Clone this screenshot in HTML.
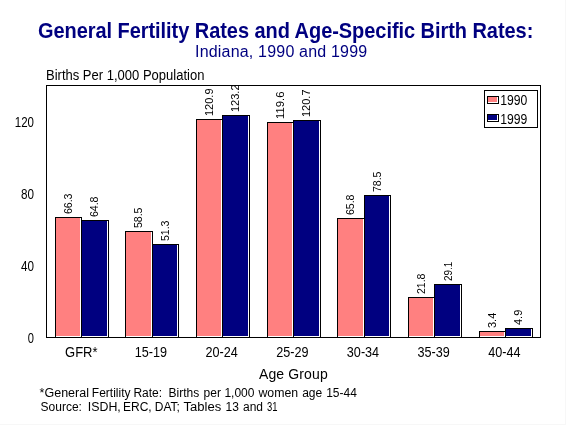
<!DOCTYPE html>
<html><head><meta charset="utf-8"><style>
html,body{margin:0;padding:0;background:#fff;width:566px;height:425px;overflow:hidden}
svg{display:block;will-change:transform}
text{white-space:pre}
</style></head><body>
<svg width="566" height="425" viewBox="0 0 566 425">
<g shape-rendering="crispEdges"><rect x="565" y="0" width="1" height="425" fill="#F7F7F7"/><rect x="0" y="424" width="566" height="1" fill="#F7F7F7"/><rect x="46.5" y="85.5" width="494" height="252" fill="none" stroke="#000" stroke-width="1"/><rect x="55" y="217" width="27" height="121" fill="#000"/><rect x="56" y="218" width="25" height="119" fill="#fff"/><rect x="56" y="218" width="24" height="118" fill="#FF8080"/><rect x="81" y="220" width="28" height="118" fill="#000"/><rect x="82" y="221" width="26" height="116" fill="#fff"/><rect x="82" y="221" width="25" height="115" fill="#000080"/><rect x="125" y="231" width="28" height="107" fill="#000"/><rect x="126" y="232" width="26" height="105" fill="#fff"/><rect x="126" y="232" width="25" height="104" fill="#FF8080"/><rect x="152" y="244" width="27" height="94" fill="#000"/><rect x="153" y="245" width="25" height="92" fill="#fff"/><rect x="153" y="245" width="24" height="91" fill="#000080"/><rect x="196" y="119" width="27" height="219" fill="#000"/><rect x="197" y="120" width="25" height="217" fill="#fff"/><rect x="197" y="120" width="24" height="216" fill="#FF8080"/><rect x="222" y="115" width="28" height="223" fill="#000"/><rect x="223" y="116" width="26" height="221" fill="#fff"/><rect x="223" y="116" width="25" height="220" fill="#000080"/><rect x="267" y="122" width="27" height="216" fill="#000"/><rect x="268" y="123" width="25" height="214" fill="#fff"/><rect x="268" y="123" width="24" height="213" fill="#FF8080"/><rect x="293" y="120" width="28" height="218" fill="#000"/><rect x="294" y="121" width="26" height="216" fill="#fff"/><rect x="294" y="121" width="25" height="215" fill="#000080"/><rect x="337" y="218" width="28" height="120" fill="#000"/><rect x="338" y="219" width="26" height="118" fill="#fff"/><rect x="338" y="219" width="25" height="117" fill="#FF8080"/><rect x="364" y="195" width="27" height="143" fill="#000"/><rect x="365" y="196" width="25" height="141" fill="#fff"/><rect x="365" y="196" width="24" height="140" fill="#000080"/><rect x="408" y="297" width="27" height="41" fill="#000"/><rect x="409" y="298" width="25" height="39" fill="#fff"/><rect x="409" y="298" width="24" height="38" fill="#FF8080"/><rect x="434" y="284" width="28" height="54" fill="#000"/><rect x="435" y="285" width="26" height="52" fill="#fff"/><rect x="435" y="285" width="25" height="51" fill="#000080"/><rect x="479" y="331" width="27" height="7" fill="#000"/><rect x="480" y="332" width="25" height="5" fill="#fff"/><rect x="480" y="332" width="24" height="4" fill="#FF8080"/><rect x="505" y="328" width="28" height="10" fill="#000"/><rect x="506" y="329" width="26" height="8" fill="#fff"/><rect x="506" y="329" width="25" height="7" fill="#000080"/><rect x="484.5" y="90.5" width="53" height="37" fill="none" stroke="#000"/><rect x="487" y="96" width="12" height="8" fill="#000"/><rect x="488" y="97" width="10" height="6" fill="#fff"/><rect x="488" y="97" width="9" height="5" fill="#FF8080"/><rect x="487" y="114" width="12" height="8" fill="#000"/><rect x="488" y="115" width="10" height="6" fill="#fff"/><rect x="488" y="115" width="9" height="5" fill="#000080"/><text x="500.2" y="105" font-size="14" textLength="27.1" lengthAdjust="spacingAndGlyphs" font-family="Liberation Sans, sans-serif">1990</text><text x="500.2" y="124" font-size="14" textLength="27.1" lengthAdjust="spacingAndGlyphs" font-family="Liberation Sans, sans-serif">1999</text></g>
<text transform="translate(71.5,214.0) rotate(-90)" font-size="11" textLength="20.41" lengthAdjust="spacingAndGlyphs" font-family="Liberation Sans, sans-serif">66.3</text><text transform="translate(98.0,217.0) rotate(-90)" font-size="11" textLength="20.41" lengthAdjust="spacingAndGlyphs" font-family="Liberation Sans, sans-serif">64.8</text><text x="81.3" y="357" font-size="14" text-anchor="middle" textLength="32.5" lengthAdjust="spacingAndGlyphs" font-family="Liberation Sans, sans-serif">GFR*</text><text transform="translate(142.0,228.0) rotate(-90)" font-size="11" textLength="20.41" lengthAdjust="spacingAndGlyphs" font-family="Liberation Sans, sans-serif">58.5</text><text transform="translate(168.5,241.0) rotate(-90)" font-size="11" textLength="20.41" lengthAdjust="spacingAndGlyphs" font-family="Liberation Sans, sans-serif">51.3</text><text x="150.9" y="357" font-size="14" text-anchor="middle" textLength="32.3" lengthAdjust="spacingAndGlyphs" font-family="Liberation Sans, sans-serif">15-19</text><text transform="translate(212.5,116.0) rotate(-90)" font-size="11" textLength="27.53" lengthAdjust="spacingAndGlyphs" font-family="Liberation Sans, sans-serif">120.9</text><text transform="translate(239.0,112.0) rotate(-90)" font-size="11" textLength="27.53" lengthAdjust="spacingAndGlyphs" font-family="Liberation Sans, sans-serif">123.2</text><text x="221.6" y="357" font-size="14" text-anchor="middle" textLength="32.3" lengthAdjust="spacingAndGlyphs" font-family="Liberation Sans, sans-serif">20-24</text><text transform="translate(283.5,119.0) rotate(-90)" font-size="11" textLength="27.53" lengthAdjust="spacingAndGlyphs" font-family="Liberation Sans, sans-serif">119.6</text><text transform="translate(310.0,117.0) rotate(-90)" font-size="11" textLength="27.53" lengthAdjust="spacingAndGlyphs" font-family="Liberation Sans, sans-serif">120.7</text><text x="292.3" y="357" font-size="14" text-anchor="middle" textLength="32.3" lengthAdjust="spacingAndGlyphs" font-family="Liberation Sans, sans-serif">25-29</text><text transform="translate(354.0,215.0) rotate(-90)" font-size="11" textLength="20.41" lengthAdjust="spacingAndGlyphs" font-family="Liberation Sans, sans-serif">65.8</text><text transform="translate(380.5,192.0) rotate(-90)" font-size="11" textLength="20.41" lengthAdjust="spacingAndGlyphs" font-family="Liberation Sans, sans-serif">78.5</text><text x="363.0" y="357" font-size="14" text-anchor="middle" textLength="32.3" lengthAdjust="spacingAndGlyphs" font-family="Liberation Sans, sans-serif">30-34</text><text transform="translate(424.5,294.0) rotate(-90)" font-size="11" textLength="20.41" lengthAdjust="spacingAndGlyphs" font-family="Liberation Sans, sans-serif">21.8</text><text transform="translate(452.0,281.0) rotate(-90)" font-size="11" textLength="19.21" lengthAdjust="spacingAndGlyphs" font-family="Liberation Sans, sans-serif">29.1</text><text x="433.6" y="357" font-size="14" text-anchor="middle" textLength="32.3" lengthAdjust="spacingAndGlyphs" font-family="Liberation Sans, sans-serif">35-39</text><text transform="translate(495.5,328.0) rotate(-90)" font-size="11" textLength="15.29" lengthAdjust="spacingAndGlyphs" font-family="Liberation Sans, sans-serif">3.4</text><text transform="translate(522.0,325.0) rotate(-90)" font-size="11" textLength="15.29" lengthAdjust="spacingAndGlyphs" font-family="Liberation Sans, sans-serif">4.9</text><text x="504.3" y="357" font-size="14" text-anchor="middle" textLength="32.3" lengthAdjust="spacingAndGlyphs" font-family="Liberation Sans, sans-serif">40-44</text><text x="34" y="343.0" font-size="14" text-anchor="end" textLength="6.2" lengthAdjust="spacingAndGlyphs" font-family="Liberation Sans, sans-serif">0</text><text x="34" y="271.0" font-size="14" text-anchor="end" textLength="13.0" lengthAdjust="spacingAndGlyphs" font-family="Liberation Sans, sans-serif">40</text><text x="34" y="199.0" font-size="14" text-anchor="end" textLength="13.0" lengthAdjust="spacingAndGlyphs" font-family="Liberation Sans, sans-serif">80</text><text x="34" y="127.0" font-size="14" text-anchor="end" textLength="19.2" lengthAdjust="spacingAndGlyphs" font-family="Liberation Sans, sans-serif">120</text>

<text transform="translate(38,38) scale(1,1.08)" font-size="20" font-weight="bold" fill="#000080" textLength="495.3" lengthAdjust="spacing" font-family="Liberation Sans, sans-serif">General Fertility Rates and Age-Specific Birth Rates:</text>
<text x="195" y="57" font-size="16" fill="#000080" textLength="172.2" lengthAdjust="spacing" font-family="Liberation Sans, sans-serif">Indiana, 1990 and 1999</text>
<text x="46" y="80" font-size="14" textLength="158.4" lengthAdjust="spacingAndGlyphs" font-family="Liberation Sans, sans-serif">Births Per 1,000 Population</text>
<text x="259" y="379" font-size="14" textLength="68.7" lengthAdjust="spacing" font-family="Liberation Sans, sans-serif">Age Group</text>
<text y="396.6" font-size="12" font-family="Liberation Sans, sans-serif"><tspan x="39.60" textLength="49.4" lengthAdjust="spacingAndGlyphs">*General</tspan><tspan x="91.80">Fertility</tspan><tspan x="133.40">Rate:</tspan><tspan x="168.60">Births</tspan><tspan x="203.60">per</tspan><tspan x="224.40">1,000</tspan><tspan x="258.40" textLength="39.7" lengthAdjust="spacingAndGlyphs">women</tspan><tspan x="302.20">age</tspan><tspan x="326.20">15-44</tspan></text>
<text y="410.6" font-size="12" font-family="Liberation Sans, sans-serif"><tspan x="40.60">Source:</tspan><tspan x="87.80" textLength="33" lengthAdjust="spacingAndGlyphs">ISDH,</tspan><tspan x="123.00">ERC,</tspan><tspan x="154.80">DAT;</tspan><tspan x="183.50" textLength="37.7" lengthAdjust="spacingAndGlyphs">Tables</tspan><tspan x="225.60">13</tspan><tspan x="243.00">and</tspan><tspan x="267.10" textLength="10.5" lengthAdjust="spacingAndGlyphs">31</tspan></text>

</svg>
</body></html>
